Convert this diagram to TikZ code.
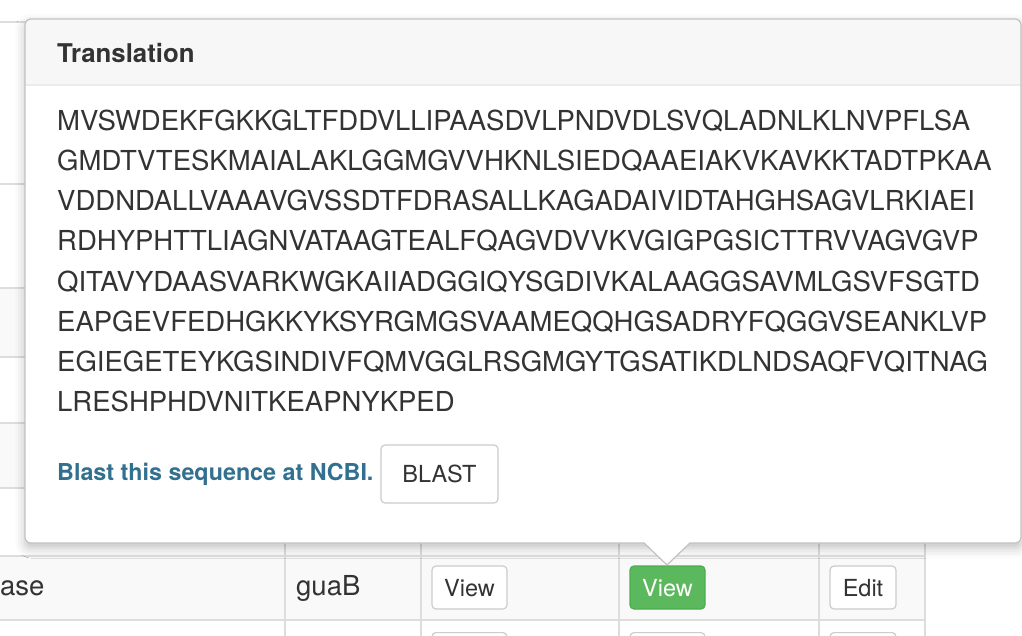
\documentclass[tikz,border=0pt]{standalone}
\usepackage{fontspec}
\setmainfont{TeX Gyre Heros}
\usetikzlibrary{shadows.blur}
\definecolor{txt}{HTML}{333333}
\definecolor{rule}{HTML}{DDDDDD}
\definecolor{stripe}{HTML}{F9F9F9}
\definecolor{headbg}{HTML}{F7F7F7}
\definecolor{headline}{HTML}{EBEBEB}
\definecolor{frame}{HTML}{C2C2C2}
\definecolor{linkblue}{HTML}{31708F}
\definecolor{okfill}{HTML}{5CB85C}
\definecolor{okline}{HTML}{4CAE4C}
\definecolor{btnline}{HTML}{CCCCCC}
\begin{document}
\begin{tikzpicture}[x=1pt,y=-1pt,line join=round,line cap=round,
	seq/.style={anchor=base west,inner sep=0pt,text=txt,font=\fontsize{27.5}{32}\selectfont},
	btn/.style={draw=btnline,fill=white,line width=1.2pt,rounded corners=4pt,
		minimum height=43pt,inner sep=0pt,text=txt,text height=17pt,text depth=0pt,
		font=\fontsize{23.5}{28}\selectfont},
	okbtn/.style={btn,draw=okline,fill=okfill,text=white}]
	\useasboundingbox (0,0) rectangle (1022,636);
	\clip (0,0) rectangle (1022,636);
	% table behind the popover
	\fill[stripe] (0,288) rectangle (925,357);
	\fill[stripe] (0,423) rectangle (925,488);
	\fill[stripe] (0,556) rectangle (925,620);
	\draw[rule,line width=1.2pt] (0,22)--(925,22);
	\draw[rule,line width=1.2pt] (0,184)--(925,184);
	\draw[rule,line width=2.4pt] (0,288)--(925,288);
	\draw[rule,line width=1.2pt] (0,357)--(925,357);
	\draw[rule,line width=1.2pt] (0,423)--(925,423);
	\draw[rule,line width=1.2pt] (0,488)--(925,488);
	\draw[rule,line width=1.2pt] (0,556)--(925,556);
	\draw[rule,line width=1.2pt] (0,620)--(925,620);
	\draw[rule,line width=1.2pt] (285,22)--(285,636);
	\draw[rule,line width=1.2pt] (421,22)--(421,636);
	\draw[rule,line width=1.2pt] (619,22)--(619,636);
	\draw[rule,line width=1.2pt] (819,22)--(819,636);
	\draw[rule,line width=1.2pt] (925,22)--(925,636);
	\node[seq] (gene) at (0,595) {ase};
	\node[seq] (name) at (296,595) {guaB};
	\node[btn,minimum width=75pt] (dna) at (469.5,587.5) {View};
	\node[okbtn,minimum width=75pt] (prot) at (667.5,587.5) {View};
	\node[btn,minimum width=66pt] (edit) at (863,587.5) {Edit};
	\node[btn,minimum width=75pt,anchor=north] (dna2) at (469.5,632) {};
	\node[btn,minimum width=75pt,anchor=north] (prot2) at (667.5,632) {};
	\node[btn,minimum width=66pt,anchor=north] (edit2) at (863,632) {};
	% popover
	\fill[white,rounded corners=6pt,blur shadow={shadow xshift=0pt,shadow yshift=-5pt,
		shadow blur radius=10pt,shadow opacity=25}] (25,19) rectangle (1021,543);
	\begin{scope}
		\clip[rounded corners=6pt] (25,19) rectangle (1021,543);
		\fill[headbg] (25,19) rectangle (1021,85);
	\end{scope}
	\draw[headline,line width=1.2pt] (25,85)--(1021,85);
	\draw[frame,line width=1.2pt,rounded corners=6pt] (25,19) rectangle (1021,543);
	\fill[white] (644,542)--(667,565)--(690,542)--cycle;
	\draw[frame,line width=1.2pt] (644,543)--(667,565)--(690,543);
	\node[anchor=base west,inner sep=0pt,text=txt,font=\bfseries\fontsize{25.8}{30}\selectfont] (title) at (57,63) {Translation};
	\node[seq] (s1) at (57,131) {MVSWDEKFGKKGLTFDDVLLIPAASDVLPNDVDLSVQLADNLKLNVPFLSA};
	\node[seq] (s2) at (57,171) {GMDTVTESKMAIALAKLGGMGVVHKNLSIEDQAAEIAKVKAVKKTADTPKAA};
	\node[seq] (s3) at (57,211) {VDDNDALLVAAAVGVSSDTFDRASALLKAGADAIVIDTAHGHSAGVLRKIAEI};
	\node[seq] (s4) at (57,251) {RDHYPHTTLIAGNVATAAGTEALFQAGVDVVKVGIGPGSICTTRVVAGVGVP};
	\node[seq] (s5) at (57,291) {QITAVYDAASVARKWGKAIIADGGIQYSGDIVKALAAGGSAVMLGSVFSGTD};
	\node[seq] (s6) at (57,331) {EAPGEVFEDHGKKYKSYRGMGSVAAMEQQHGSADRYFQGGVSEANKLVP};
	\node[seq] (s7) at (57,371) {EGIEGETEYKGSINDIVFQMVGGLRSGMGYTGSATIKDLNDSAQFVQITNAG};
	\node[seq] (s8) at (57,411) {LRESHPHDVNITKEAPNYKPED};
	\node[anchor=base west,inner sep=0pt,text=linkblue,font=\bfseries\fontsize{23.3}{28}\selectfont] (ncbi) at (57,480) {Blast this sequence at NCBI.};
	\node[btn,minimum width=117pt,minimum height=58pt] (blast) at (439.5,474) {BLAST};
\end{tikzpicture}
\end{document}
